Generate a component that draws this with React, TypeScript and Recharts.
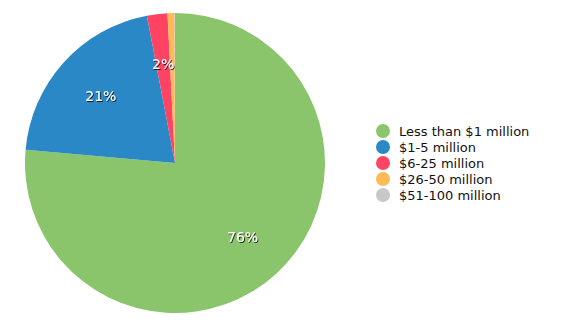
import React from 'react';
import { PieChart, Pie, Cell, Legend } from 'recharts';

const categories = ['Less than $1 million', '$1-5 million', '$6-25 million', '$26-50 million', '$51-100 million'];
const shares = [76.4, 20.6, 2.2, 0.75, 0.05];
const colors = ['#8bc56b', '#2a88c7', '#ff4363', '#ffb957', '#c8c8c8'];

const data = categories.map((name, i) => ({ name, value: shares[i] }));
const FONT = '"DejaVu Sans", Verdana, sans-serif';
const RAD = Math.PI / 180;

const renderLabel = (props: any) => {
  const { cx, cy, midAngle, outerRadius, value } = props;
  if (value < 1.5) return null;
  const r = (outerRadius * 2) / 3;
  const x = cx + r * Math.cos(-midAngle * RAD);
  const y = cy + r * Math.sin(-midAngle * RAD);
  return (
    <text x={x} y={y} fill="#ffffff" textAnchor="middle" dominantBaseline="central"
      fontFamily={FONT} fontSize={14} filter="url(#lblShadow)">
      {`${Math.round(value)}%`}
    </text>
  );
};

const renderLegend = () => (
  <div style={{ fontFamily: FONT, fontSize: 13, color: '#111' }}>
    {categories.map((c, i) => (
      <div key={c} style={{ display: 'flex', alignItems: 'center', height: 16 }}>
        <span style={{ width: 14, height: 14, borderRadius: '50%', background: colors[i], display: 'inline-block', marginRight: 9 }} />
        <span>{c}</span>
      </div>
    ))}
  </div>
);

export default function App() {
  return (
    <div style={{ position: 'absolute', left: 0, top: 0, width: 580, height: 326, background: '#fff' }}>
      <PieChart width={580} height={326} margin={{ top: 0, right: 0, bottom: 0, left: 0 }}>
        <defs>
          <filter id="lblShadow" x="-20%" y="-20%" width="140%" height="140%">
            <feDropShadow dx="1" dy="1" stdDeviation="0.6" floodColor="#000" floodOpacity="0.75" />
          </filter>
        </defs>
        <Pie data={data} dataKey="value" nameKey="name" cx={175} cy={163} outerRadius={150}
          startAngle={90} endAngle={-270} stroke="none" labelLine={false} label={renderLabel}
          isAnimationActive={false}>
          {data.map((d, i) => <Cell key={d.name} fill={colors[i]} />)}
        </Pie>
        <Legend content={renderLegend} layout="vertical"
          wrapperStyle={{ position: 'absolute', left: 376, top: 123, width: 200 }} />
      </PieChart>
    </div>
  );
}
